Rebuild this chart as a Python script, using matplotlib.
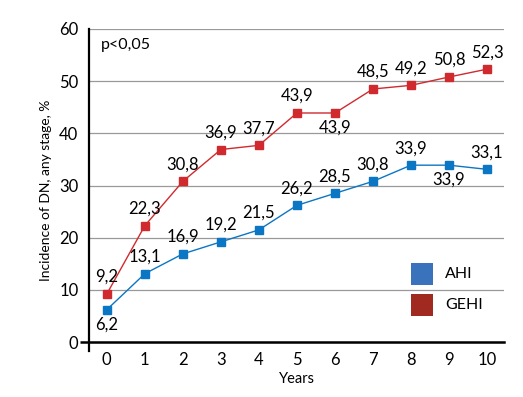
import matplotlib
matplotlib.use('Agg')
import matplotlib.pyplot as plt
from matplotlib.patches import Rectangle

# Data
years = [0, 1, 2, 3, 4, 5, 6, 7, 8, 9, 10]
ahi = [6.2, 13.1, 16.9, 19.2, 21.5, 26.2, 28.5, 30.8, 33.9, 33.9, 33.1]
gehi = [9.2, 22.3, 30.8, 36.9, 37.7, 43.9, 43.9, 48.5, 49.2, 50.8, 52.3]
series_names = ['AHI', 'GEHI']
p_text = 'p<0,05'
y_label = 'Incidence of DN, any stage, %'
x_label = 'Years'

# label placement: True = below the point
ahi_below = [True, False, False, False, False, False, False, False, False, True, False]
gehi_below = [False, False, False, False, False, False, True, False, False, False, False]

line_colors = ['#0b76c4', '#d12a2e']
legend_colors = ['#3a72bc', '#a02a20']

plt.rcParams['font.family'] = ['Lato', 'DejaVu Sans']


def fmt(v):
    return f'{v:.1f}'.replace('.', ',')


def plot_chart():
    fig = plt.figure(figsize=(5.23, 3.97), dpi=100)
    ax = fig.add_axes([0.170, 0.116, 0.794, 0.811])

    for vals, below, col in [(ahi, ahi_below, line_colors[0]), (gehi, gehi_below, line_colors[1])]:
        ax.plot(years, vals, color=col, lw=1.0, marker='s', ms=6, zorder=3)
        for x, v, b in zip(years, vals, below):
            if b:
                ax.annotate(fmt(v), (x, v), xytext=(0, -5), textcoords='offset points',
                            ha='center', va='top', fontsize=12)
            else:
                ax.annotate(fmt(v), (x, v), xytext=(0, 6.5), textcoords='offset points',
                            ha='center', va='bottom', fontsize=12)

    ax.set_xlim(-0.47, 10.45)
    ax.set_ylim(-1.7, 60)
    ax.set_xticks(years)
    ax.set_yticks(range(0, 61, 10))
    ax.yaxis.grid(True, color='#999999', lw=0.9)
    ax.set_axisbelow(True)

    for s in ['top', 'right']:
        ax.spines[s].set_visible(False)
    ax.spines['left'].set_linewidth(1.6)
    ax.spines['bottom'].set_position(('data', 0))
    ax.spines['bottom'].set_linewidth(1.8)

    ax.tick_params(axis='x', length=0, pad=7, labelsize=12)
    ax.tick_params(axis='y', length=6.5, width=1.8, pad=1, labelsize=12)
    for t in ax.yaxis.get_major_ticks()[1:]:
        t.tick1line.set_visible(False)

    ax.set_ylabel(y_label, fontsize=10, labelpad=5)
    ax.set_xlabel(x_label, fontsize=10.5, labelpad=3)

    ax.text(0.03, 0.95, p_text, transform=ax.transAxes, fontsize=11.5, va='center')

    # legend squares
    for i, (name, col) in enumerate(zip(series_names, legend_colors)):
        yb = 0.205 - i * 0.096
        ax.add_patch(Rectangle((0.776, yb), 0.053, 0.068, transform=ax.transAxes,
                               facecolor=col, edgecolor='none', clip_on=False))
        ax.text(0.858, yb + 0.034, name, transform=ax.transAxes, fontsize=11.5, va='center')

    fig.savefig('out.png', dpi=100)


if __name__ == '__main__':
    plot_chart()
